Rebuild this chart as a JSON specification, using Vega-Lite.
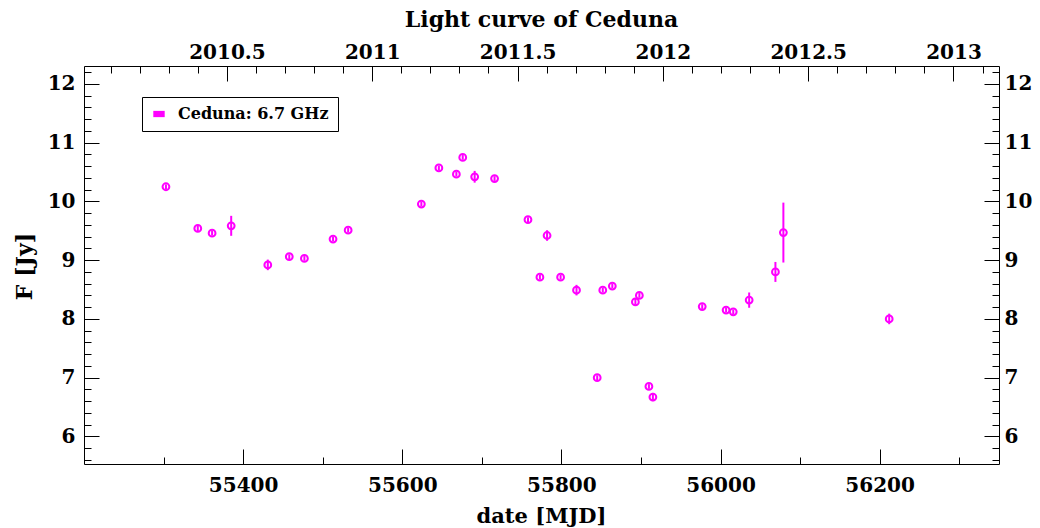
{
  "$schema": "https://vega.github.io/schema/vega-lite/v6.json",
  "width": 915,
  "height": 398,
  "autosize": {"type": "none"},
  "padding": {"left": 84, "top": 66, "right": 41, "bottom": 64},
  "background": "white",
  "title": {
    "text": "Light curve of Ceduna",
    "font": "DejaVu Serif",
    "fontSize": 22,
    "fontWeight": "bold",
    "color": "black",
    "anchor": "middle",
    "offset": 10
  },
  "data": {
    "values": [
      {"mjd": 55303, "flux": 10.25, "err": 0.04},
      {"mjd": 55343, "flux": 9.54, "err": 0.06},
      {"mjd": 55361, "flux": 9.46, "err": 0.04},
      {"mjd": 55385, "flux": 9.585, "err": 0.17},
      {"mjd": 55431, "flux": 8.92, "err": 0.09},
      {"mjd": 55458, "flux": 9.06, "err": 0.04},
      {"mjd": 55477, "flux": 9.03, "err": 0.04},
      {"mjd": 55513, "flux": 9.36, "err": 0.04},
      {"mjd": 55532, "flux": 9.51, "err": 0.04},
      {"mjd": 55624, "flux": 9.955, "err": 0.04},
      {"mjd": 55646, "flux": 10.57, "err": 0.04},
      {"mjd": 55668, "flux": 10.465, "err": 0.04},
      {"mjd": 55676, "flux": 10.75, "err": 0.04},
      {"mjd": 55691, "flux": 10.42, "err": 0.1},
      {"mjd": 55716, "flux": 10.39, "err": 0.04},
      {"mjd": 55758, "flux": 9.69, "err": 0.04},
      {"mjd": 55773, "flux": 8.71, "err": 0.04},
      {"mjd": 55782, "flux": 9.42, "err": 0.09},
      {"mjd": 55799, "flux": 8.71, "err": 0.04},
      {"mjd": 55819, "flux": 8.49, "err": 0.09},
      {"mjd": 55845, "flux": 7.0, "err": 0.04},
      {"mjd": 55852, "flux": 8.49, "err": 0.04},
      {"mjd": 55864, "flux": 8.56, "err": 0.04},
      {"mjd": 55893, "flux": 8.29, "err": 0.05},
      {"mjd": 55898, "flux": 8.4, "err": 0.04},
      {"mjd": 55910, "flux": 6.85, "err": 0.04},
      {"mjd": 55915, "flux": 6.67, "err": 0.07},
      {"mjd": 55977, "flux": 8.21, "err": 0.04},
      {"mjd": 56007, "flux": 8.15, "err": 0.04},
      {"mjd": 56016, "flux": 8.12, "err": 0.04},
      {"mjd": 56036, "flux": 8.32, "err": 0.13},
      {"mjd": 56069, "flux": 8.8, "err": 0.17},
      {"mjd": 56079, "flux": 9.47, "err": 0.51},
      {"mjd": 56212, "flux": 8.0, "err": 0.09}
    ]
  },
  "config": {
    "view": {"stroke": "black", "strokeWidth": 1},
    "axis": {
      "grid": false,
      "domain": false,
      "tickColor": "black",
      "tickWidth": 1,
      "labelColor": "black",
      "titleColor": "black",
      "labelFont": "DejaVu Serif",
      "labelFontWeight": "bold",
      "labelFontSize": 20,
      "titleFont": "DejaVu Serif",
      "titleFontWeight": "bold",
      "titleFontSize": 21
    }
  },
  "resolve": {
    "scale": {"x": "independent", "y": "independent"},
    "axis": {"x": "independent", "y": "independent"}
  },
  "layer": [
    {
      "mark": {"type": "errorbar", "ticks": false, "thickness": 2, "color": "#ff00ff"},
      "encoding": {
        "x": {"field": "mjd", "type": "quantitative", "scale": {"domain": [55200, 56350], "nice": false, "zero": false}, "axis": null},
        "y": {"field": "flux", "type": "quantitative", "scale": {"domain": [5.53, 12.306], "nice": false, "zero": false}, "axis": null},
        "yError": {"field": "err"}
      }
    },
    {
      "mark": {"type": "point", "shape": "circle", "filled": false, "size": 46, "strokeWidth": 2, "opacity": 1, "color": "#ff00ff"},
      "encoding": {
        "x": {
          "field": "mjd", "type": "quantitative",
          "scale": {"domain": [55200, 56350], "nice": false, "zero": false},
          "axis": {
            "orient": "bottom",
            "values": [55400, 55600, 55800, 56000, 56200],
            "format": "d",
            "tickSize": -15,
            "labelBaseline": "alphabetic",
            "labelPadding": 42,
            "title": "date [MJD]",
            "titleBaseline": "alphabetic",
            "titleY": 58,
            "titleX": 457
          }
        },
        "y": {
          "field": "flux", "type": "quantitative",
          "scale": {"domain": [5.53, 12.306], "nice": false, "zero": false},
          "axis": {
            "orient": "left",
            "values": [6, 7, 8, 9, 10, 11, 12],
            "format": "d",
            "tickSize": -15,
            "labelPadding": 24,
            "title": "F [Jy]",
            "titleFontSize": 22,
            "titleX": -48,
            "titleY": 200
          }
        }
      }
    },
    {
      "mark": {"type": "square", "filled": true, "size": 0, "opacity": 1},
      "encoding": {
        "color": {
          "datum": "Ceduna: 6.7 GHz",
          "type": "nominal",
          "scale": {"range": ["#ff00ff"]},
          "legend": {
            "orient": "none",
            "legendX": 58,
            "legendY": 31,
            "title": null,
            "strokeColor": "black",
            "fillColor": "white",
            "padding": 9,
            "symbolType": "M-1,-0.55L1,-0.55L1,0.55L-1,0.55Z",
            "symbolSize": 130,
            "symbolStrokeWidth": 0,
            "symbolOpacity": 1,
            "labelFont": "DejaVu Serif",
            "labelFontWeight": "bold",
            "labelFontSize": 16,
            "labelColor": "black",
            "labelOffset": 11
          }
        }
      }
    },
    {
      "mark": {"type": "point", "opacity": 0},
      "encoding": {
        "x": {
          "datum": 55300, "type": "quantitative",
          "scale": {"domain": [55200, 56350], "nice": false, "zero": false},
          "axis": {"orient": "bottom", "values": [55300, 55500, 55700, 55900, 56100, 56300], "tickSize": -7, "labels": false, "title": null}
        },
        "y": {
          "datum": 6, "type": "quantitative",
          "scale": {"domain": [5.53, 12.306], "nice": false, "zero": false},
          "axis": {"orient": "left", "values": [5.6, 5.8, 6.2, 6.4, 6.6, 6.8, 7.2, 7.4, 7.6, 7.8, 8.2, 8.4, 8.6, 8.8, 9.2, 9.4, 9.6, 9.8, 10.2, 10.4, 10.6, 10.8, 11.2, 11.4, 11.6, 11.8, 12.2], "tickSize": -7, "labels": false, "title": null}
        }
      }
    },
    {
      "mark": {"type": "point", "opacity": 0},
      "encoding": {
        "x": {
          "datum": 2011, "type": "quantitative",
          "scale": {"domain": [2010.0082, 2013.1567], "nice": false, "zero": false},
          "axis": {"orient": "top", "values": [2010.5, 2011, 2011.5, 2012, 2012.5, 2013], "format": "~g", "tickSize": -15, "labelBaseline": "alphabetic", "labelPadding": 23, "title": null}
        },
        "y": {
          "datum": 6, "type": "quantitative",
          "scale": {"domain": [5.53, 12.306], "nice": false, "zero": false},
          "axis": {"orient": "right", "values": [6, 7, 8, 9, 10, 11, 12], "format": "d", "tickSize": -15, "labelPadding": 20, "title": null}
        }
      }
    },
    {
      "mark": {"type": "point", "opacity": 0},
      "encoding": {
        "x": {
          "datum": 2011, "type": "quantitative",
          "scale": {"domain": [2010.0082, 2013.1567], "nice": false, "zero": false},
          "axis": {"orient": "top", "values": [2010.1, 2010.2, 2010.3, 2010.4, 2010.6, 2010.7, 2010.8, 2010.9, 2011.1, 2011.2, 2011.3, 2011.4, 2011.6, 2011.7, 2011.8, 2011.9, 2012.1, 2012.2, 2012.3, 2012.4, 2012.6, 2012.7, 2012.8, 2012.9, 2013.1], "tickSize": -7, "labels": false, "title": null}
        },
        "y": {
          "datum": 6, "type": "quantitative",
          "scale": {"domain": [5.53, 12.306], "nice": false, "zero": false},
          "axis": {"orient": "right", "values": [5.6, 5.8, 6.2, 6.4, 6.6, 6.8, 7.2, 7.4, 7.6, 7.8, 8.2, 8.4, 8.6, 8.8, 9.2, 9.4, 9.6, 9.8, 10.2, 10.4, 10.6, 10.8, 11.2, 11.4, 11.6, 11.8, 12.2], "tickSize": -7, "labels": false, "title": null}
        }
      }
    }
  ]
}
